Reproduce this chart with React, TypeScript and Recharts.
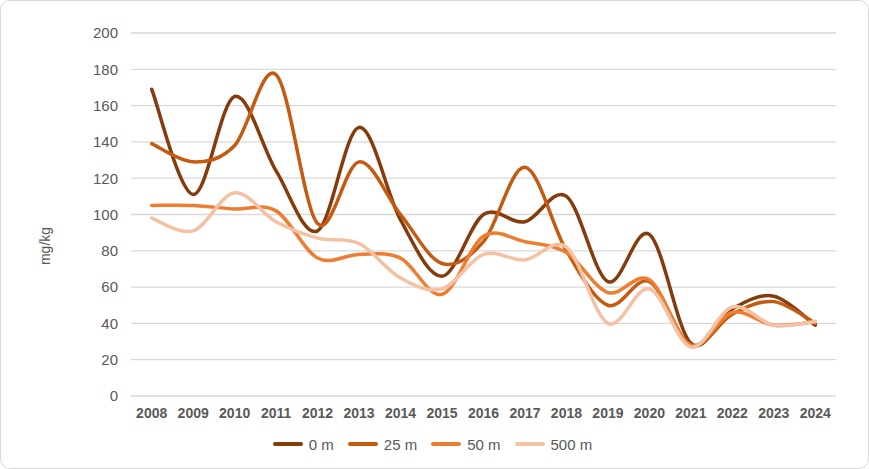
import React from "react";
import { LineChart, Line, XAxis, YAxis, CartesianGrid, Legend, Label } from "recharts";

const years = [
  "2008", "2009", "2010", "2011", "2012", "2013", "2014", "2015", "2016",
  "2017", "2018", "2019", "2020", "2021", "2022", "2023", "2024",
];

const depth0 = [169, 111, 165, 124, 91, 148, 97, 66, 100, 96, 110, 63, 89, 29, 48, 55, 39];
const depth25 = [139, 129, 138, 177, 95, 129, 100, 73, 85, 126, 80, 50, 63, 28, 45, 52, 40];
const depth50 = [105, 105, 103, 102, 76, 78, 76, 56, 88, 85, 79, 57, 64, 28, 46, 39, 41];
const depth500 = [98, 91, 112, 96, 87, 84, 65, 59, 78, 75, 82, 40, 59, 27, 49, 39, 41];

const yTicks = [0, 20, 40, 60, 80, 100, 120, 140, 160, 180, 200];

const series = [
  { key: "d0", name: "0 m", color: "#843C0C" },
  { key: "d25", name: "25 m", color: "#C55A11" },
  { key: "d50", name: "50 m", color: "#ED7D31" },
  { key: "d500", name: "500 m", color: "#F5C1A3" },
];

const data = years.map((year, i) => ({
  year,
  d0: depth0[i],
  d25: depth25[i],
  d50: depth50[i],
  d500: depth500[i],
}));

// excel style smoothing: cubic bezier through the points, handles at 1/6
function smoothCurve(context: any) {
  let pts: number[][] = [];
  return {
    areaStart() {},
    areaEnd() {},
    lineStart() {
      pts = [];
    },
    point(x: number, y: number) {
      pts.push([+x, +y]);
    },
    lineEnd() {
      if (!pts.length) return;
      context.moveTo(pts[0][0], pts[0][1]);
      for (let i = 0; i < pts.length - 1; i++) {
        const p0 = pts[i - 1] || pts[i];
        const p1 = pts[i];
        const p2 = pts[i + 1];
        const p3 = pts[i + 2] || pts[i + 1];
        context.bezierCurveTo(
          p1[0] + (p2[0] - p0[0]) / 6,
          p1[1] + (p2[1] - p0[1]) / 6,
          p2[0] - (p3[0] - p1[0]) / 6,
          p2[1] - (p3[1] - p1[1]) / 6,
          p2[0],
          p2[1]
        );
      }
    },
  };
}

const LegendBox = () => (
  <div
    style={{
      display: "flex",
      justifyContent: "center",
      alignItems: "center",
      height: 24,
      fontSize: 15,
      color: "#595959",
      paddingLeft: 42,
    }}
  >
    {series.map((s) => (
      <div key={s.key} style={{ display: "flex", alignItems: "center", marginRight: 14 }}>
        <div style={{ width: 30, height: 4, borderRadius: 2, background: s.color, marginRight: 6 }} />
        <span>{s.name}</span>
      </div>
    ))}
  </div>
);

const AxisTitle = () => (
  <text
    x={44}
    y={245}
    transform="rotate(-90 44 245)"
    textAnchor="middle"
    dominantBaseline="central"
    fill="#595959"
    fontSize={14}
  >
    mg/kg
  </text>
);

export default function App() {
  return (
    <div
      style={{
        position: "absolute",
        left: 0,
        top: 0,
        width: 869,
        height: 469,
        boxSizing: "border-box",
        border: "1px solid #d9d9d9",
        borderRadius: 10,
        background: "#fff",
        fontFamily: "'Liberation Sans', Arial, sans-serif",
      }}
    >
      <LineChart
        width={867}
        height={467}
        data={data}
        margin={{ top: 32, right: 32, bottom: 12, left: 0 }}
      >
        <CartesianGrid vertical={false} stroke="#d9d9d9" strokeWidth={1.3} />
        <XAxis
          dataKey="year"
          axisLine={false}
          tickLine={false}
          tickSize={0}
          tickMargin={12}
          height={36}
          interval={0}
          padding={{ left: 20.7, right: 20.7 }}
          tick={{ fill: "#595959", fontSize: 14, fontWeight: 700 }}
        />
        <YAxis
          domain={[0, 200]}
          ticks={yTicks}
          axisLine={false}
          tickLine={false}
          tickSize={0}
          tickMargin={13}
          width={130}
          tick={{ fill: "#595959", fontSize: 15 }}
        >
          <Label content={<AxisTitle />} />
        </YAxis>
        <Legend verticalAlign="bottom" height={24} content={<LegendBox />} />
        {series.map((s) => (
          <Line
            key={s.key}
            dataKey={s.key}
            name={s.name}
            type={smoothCurve as any}
            stroke={s.color}
            strokeWidth={3.5}
            strokeLinecap="round"
            dot={false}
            activeDot={false}
            isAnimationActive={false}
          />
        ))}
      </LineChart>
    </div>
  );
}
